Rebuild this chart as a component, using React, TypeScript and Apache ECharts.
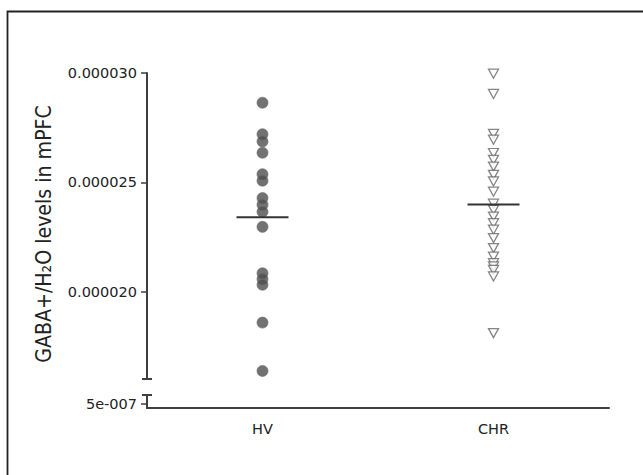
import React, { useEffect, useRef } from "react";
import * as echarts from "echarts";

const categories = ["HV", "CHR"];
const hvValues = [
  0.00002864, 0.0000272, 0.00002687, 0.00002635, 0.00002537, 0.00002507,
  0.00002428, 0.00002397, 0.00002365, 0.00002296, 0.00002084, 0.00002057,
  0.00002031, 0.00001858, 0.00001637,
];
const chrValues = [
  0.00002997, 0.00002904, 0.00002722, 0.00002695, 0.00002634, 0.00002603,
  0.00002572, 0.00002534, 0.00002504, 0.00002457, 0.00002402, 0.00002374,
  0.00002343, 0.00002313, 0.00002283, 0.00002245, 0.00002199, 0.0000216,
  0.0000213, 0.00002115, 0.00002099, 0.00002069, 0.0000181,
];
const mainTicks = [0.00002, 0.000025, 0.00003];
const lowTicks = [0.0000005];
const yTitle = "GABA+/H\u2082O levels in mPFC";

const mean = (a: number[]) => a.reduce((s, v) => s + v, 0) / a.length;

export default function App() {
  const ref = useRef<HTMLDivElement>(null);
  useEffect(() => {
    if (!ref.current) return;
    const chart = echarts.init(ref.current, null, { renderer: "svg" });
    const axisColor = "#3f3f3f";
    const font = "DejaVu Sans";
    const left = 147;
    const mainTop = 73;
    const mainH = 306;
    const lowTop = 395;
    const lowH = 13;
    chart.setOption({
      animation: false,
      backgroundColor: "#ffffff",
      grid: [
        { left, right: 34, top: mainTop, height: mainH },
        { left, right: 34, top: lowTop, height: lowH },
      ],
      xAxis: [
        { gridIndex: 0, type: "category", data: categories, show: false },
        {
          gridIndex: 1,
          type: "category",
          data: categories,
          axisLine: { lineStyle: { color: axisColor, width: 2 } },
          axisTick: { alignWithLabel: true, length: 5, lineStyle: { color: axisColor, width: 1.5 } },
          axisLabel: { fontSize: 14.5, fontFamily: font, color: "#222", margin: 13 },
          splitLine: { show: false },
        },
      ],
      yAxis: [
        {
          gridIndex: 0,
          type: "value",
          min: 0.000016,
          max: 0.00003,
          axisLine: { show: true, lineStyle: { color: axisColor, width: 2 } },
          axisTick: { show: true, customValues: mainTicks, length: 6, lineStyle: { color: axisColor, width: 1.5 } },
          axisLabel: {
            customValues: mainTicks,
            formatter: (v: number) => v.toFixed(6),
            fontSize: 14.5,
            fontFamily: font,
            color: "#222",
            margin: 10,
          },
          splitLine: { show: false },
        },
        {
          gridIndex: 1,
          type: "value",
          min: 0,
          max: 0.0000016,
          axisLine: { show: true, lineStyle: { color: axisColor, width: 2 } },
          axisTick: { show: true, customValues: lowTicks, length: 6, lineStyle: { color: axisColor, width: 1.5 } },
          axisLabel: {
            customValues: lowTicks,
            formatter: () => "5e-007",
            fontSize: 14.5,
            fontFamily: font,
            color: "#222",
            margin: 10,
          },
          splitLine: { show: false },
        },
      ],
      series: [
        {
          type: "scatter",
          xAxisIndex: 0,
          yAxisIndex: 0,
          symbol: "circle",
          symbolSize: 11,
          itemStyle: { color: "#4f4f4f", borderColor: "#6e6e6e", borderWidth: 0.8 },
          data: hvValues.map((v) => [categories[0], v]),
          z: 2,
        },
        {
          type: "scatter",
          xAxisIndex: 0,
          yAxisIndex: 0,
          symbol: "triangle",
          symbolRotate: 180,
          symbolSize: [10, 9],
          itemStyle: { color: "#ffffff", borderColor: "#666666", borderWidth: 1.3 },
          data: chrValues.map((v) => [categories[1], v]),
          z: 2,
        },
        {
          type: "custom",
          xAxisIndex: 0,
          yAxisIndex: 0,
          z: 5,
          data: [
            [categories[0], mean(hvValues)],
            [categories[1], mean(chrValues)],
          ],
          renderItem: (params: any, api: any) => {
            const p = api.coord([api.value(0), api.value(1)]);
            return {
              type: "line",
              shape: { x1: p[0] - 26, y1: p[1], x2: p[0] + 26, y2: p[1] },
              style: { stroke: "#333333", lineWidth: 2 },
            };
          },
        },
      ],
      graphic: [
        {
          type: "rect",
          shape: { x: 7.5, y: 11.5, width: 700, height: 600 },
          style: { fill: "none", stroke: "#222", lineWidth: 1.8 },
          silent: true,
        },
        {
          type: "line",
          shape: { x1: left - 5, y1: mainTop + mainH, x2: left + 5, y2: mainTop + mainH },
          style: { stroke: axisColor, lineWidth: 2 },
        },
        {
          type: "line",
          shape: { x1: left - 5, y1: lowTop, x2: left + 5, y2: lowTop },
          style: { stroke: axisColor, lineWidth: 2 },
        },
        {
          type: "text",
          x: 43.5,
          y: 234,
          rotation: Math.PI / 2,
          scaleY: 1.15,
          style: {
            text: yTitle,
            fontSize: 19,
            fontFamily: font,
            fill: "#222",
            align: "center",
            verticalAlign: "middle",
          },
        },
      ],
    });
    return () => chart.dispose();
  }, []);
  return (
    <div
      ref={ref}
      style={{ position: "fixed", left: 0, top: 0, width: 643, height: 475, background: "#fff" }}
    />
  );
}
